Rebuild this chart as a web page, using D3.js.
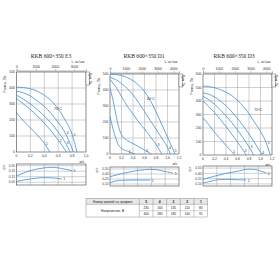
<!DOCTYPE html>
<html><head><meta charset="utf-8">
<script src="https://cdn.jsdelivr.net/npm/d3@7"></script>
<style>body{margin:0;background:#fff}svg{display:block}text{font-family:"Liberation Sans",Arial,sans-serif}</style>
</head><body>
<svg id="c" width="280" height="280"></svg>
<script>
// ---------- data ----------
const titles = ["RKB 600×350 E3", "RKB 600×350 D1", "RKB 600×350 D3"];
const tempLabels = ["70°C", "40°C", "70°C"];
const tempAnchors = [[0.54, 262], [0.64, 337], [0.89, 326]];
const velMax = [1.0, 1.2, 1.2];
const presMax = [500, 500, 600];
const velTicks = [[0, 0.2, 0.4, 0.6, 0.8, 1.0], [0, 0.2, 0.4, 0.6, 0.8, 1.0, 1.2], [0, 0.2, 0.4, 0.6, 0.8, 1.0, 1.2]];
const presTicks = [[0, 100, 200, 300, 400, 500], [0, 100, 200, 300, 400, 500], [0, 100, 200, 300, 400, 500, 600]];
const flowTicks = [[0, 1000, 2000, 3000], [0, 1000, 2000, 3000, 4000], [0, 1000, 2000, 3000, 4000]];
const flowPerVel = 3630;
const curveNames = ["1", "2", "3", "4", "5"];

// E3 pressure curves [velocity, Pa]
const e3c1 = [[0,245],[0.1,195],[0.2,150],[0.3,105],[0.4,55],[0.48,0]];
const e3c2 = [[0,335],[0.1,300],[0.2,265],[0.3,225],[0.4,180],[0.5,130],[0.6,75],[0.72,0]];
const e3c3 = [[0,355],[0.1,330],[0.2,300],[0.3,265],[0.4,225],[0.5,180],[0.6,125],[0.7,60],[0.77,0]];
const e3c4 = [[0,380],[0.1,370],[0.2,350],[0.3,320],[0.4,285],[0.5,240],[0.6,185],[0.7,120],[0.82,0]];
const e3c5 = [[0,405],[0.1,403],[0.2,395],[0.3,380],[0.4,355],[0.5,320],[0.6,270],[0.7,200],[0.8,110],[0.87,0]];
// D1
const d1c1 = [[0,235],[0.05,160],[0.1,100],[0.15,55],[0.2,35],[0.3,18],[0.43,0]];
const d1c2 = [[0,410],[0.05,340],[0.1,250],[0.15,170],[0.2,120],[0.3,85],[0.4,65],[0.5,45],[0.6,25],[0.72,0]];
const d1c3 = [[0,465],[0.1,420],[0.2,360],[0.3,300],[0.4,250],[0.5,200],[0.6,155],[0.7,110],[0.8,60],[0.9,0]];
const d1c4 = [[0,480],[0.1,465],[0.2,440],[0.3,410],[0.4,370],[0.5,320],[0.6,265],[0.7,210],[0.8,155],[0.9,100],[1.0,40],[1.05,0]];
const d1c5 = [[0,500],[0.1,497],[0.2,490],[0.3,478],[0.4,458],[0.5,430],[0.6,390],[0.7,335],[0.8,265],[0.9,185],[1.0,105],[1.1,25],[1.13,0]];
// D3
const d3c1 = [[0,275],[0.1,225],[0.2,170],[0.3,120],[0.4,70],[0.5,25],[0.56,0]];
const d3c2 = [[0,400],[0.1,360],[0.2,315],[0.3,265],[0.4,210],[0.5,155],[0.6,95],[0.7,35],[0.75,0]];
const d3c3 = [[0,435],[0.1,410],[0.2,375],[0.3,335],[0.4,290],[0.5,240],[0.6,185],[0.7,125],[0.8,60],[0.88,0]];
const d3c4 = [[0,460],[0.1,450],[0.2,430],[0.3,400],[0.4,365],[0.5,320],[0.6,270],[0.7,215],[0.8,155],[0.9,90],[1.0,20],[1.03,0]];
const d3c5 = [[0,510],[0.1,507],[0.2,498],[0.3,485],[0.4,465],[0.5,440],[0.6,405],[0.7,360],[0.8,305],[0.9,240],[1.0,175],[1.1,90],[1.17,0]];

// efficiency curves
const effDomains = [[0, 0.38], [0.04, 0.61], [0.04, 0.61]];
const effTicks = [[0.05, 0.15, 0.25, 0.35], [0.10, 0.25, 0.40, 0.55], [0.10, 0.25, 0.40, 0.55]];
const effNames = [["1", "5"], ["1", "5"], ["2", "5"]];
const e3eLow = [[0,0.063],[0.1,0.09],[0.2,0.11],[0.3,0.125],[0.4,0.133],[0.5,0.13],[0.65,0.11]];
const e3eHigh = [[0,0.165],[0.1,0.215],[0.2,0.26],[0.3,0.29],[0.4,0.31],[0.5,0.32],[0.6,0.31],[0.7,0.285],[0.8,0.26]];
const d1eLow = [[0,0.14],[0.1,0.19],[0.2,0.21],[0.4,0.22],[0.7,0.22]];
const d1eHigh = [[0,0.32],[0.2,0.41],[0.4,0.48],[0.6,0.53],[0.7,0.54],[0.8,0.53],[0.9,0.5],[1.0,0.46],[1.1,0.42]];
const d3eLow = [[0,0.12],[0.1,0.16],[0.2,0.2],[0.3,0.225],[0.4,0.23],[0.5,0.225],[0.75,0.21]];
const d3eHigh = [[0,0.23],[0.2,0.32],[0.4,0.40],[0.6,0.46],[0.7,0.5],[0.8,0.52],[0.9,0.51],[1.0,0.47],[1.1,0.41]];

// table
const tableHeader = "Номер кривой на графике";
const tableRowLabel = "Напряжение, В";
const tableCurves = ["5", "4", "3", "2", "1"];
const voltsLow = ["230", "160", "135", "110", "80"];
const voltsHigh = ["400", "280", "180", "140", "95"];

// ---------- drawing ----------
const svg = d3.select("#c");
const blue = "#3d8fd6", gridC = "#a0a0a0", frameC = "#444", txt = "#333";

const layouts = [
  {x0:16.5, x1:86, y0:72, y1:152, ey0:164, ey1:185, tx:51},
  {x0:110, x1:179, y0:74, y1:154, ey0:167, ey1:186, tx:144},
  {x0:203, x1:272, y0:74, y1:155, ey0:166, ey1:186, tx:234}
];
const curveSets = [[e3c1,e3c2,e3c3,e3c4,e3c5],[d1c1,d1c2,d1c3,d1c4,d1c5],[d3c1,d3c2,d3c3,d3c4,d3c5]];
const effSets = [[e3eLow,e3eHigh],[d1eLow,d1eHigh],[d3eLow,d3eHigh]];
const fmt = d => d3.format(d === 0 ? "d" : ".1f")(d).replace(".", ",");
const fmt2 = d => d3.format(".2f")(d).replace(".", ",");

layouts.forEach((L, i) => {
  const g = svg.append("g");
  const x = d3.scaleLinear().domain([0, velMax[i]]).range([L.x0, L.x1]);
  const y = d3.scaleLinear().domain([0, presMax[i]]).range([L.y1, L.y0]);
  const xt = d3.scaleLinear().domain([0, velMax[i] * flowPerVel]).range([L.x0, L.x1]);

  // title
  g.append("text").attr("x", L.tx).attr("y", 58).attr("text-anchor", "middle")
    .style("font-family", "'Liberation Serif',serif").attr("font-size", 5.6).attr("fill", "#222").text(titles[i]);
  // top flow axis
  g.append("text").attr("x", L.x1 - 1).attr("y", 63).attr("text-anchor", "end").attr("font-size", 3.4).attr("fill", txt).text("L, м³/час");
  const ta = g.append("g").attr("transform", `translate(0,${L.y0 - 1.5})`)
    .call(d3.axisTop(xt).tickValues(flowTicks[i]).tickSize(1.2).tickPadding(1).tickFormat(d3.format("d")));
  ta.select(".domain").attr("stroke", frameC).attr("stroke-width", 0.4);
  ta.selectAll("line").attr("stroke", frameC).attr("stroke-width", 0.4);
  ta.selectAll("text").attr("font-size", 3.4).attr("fill", txt).style("font-family", "'Liberation Sans',Arial");

  // grid
  g.append("g").selectAll("line.v").data(velTicks[i].slice(1, -1)).join("line")
    .attr("x1", d => x(d)).attr("x2", d => x(d)).attr("y1", L.y0).attr("y2", L.y1)
    .attr("stroke", gridC).attr("stroke-width", 0.5);
  g.append("g").selectAll("line.h").data(presTicks[i].slice(1, -1)).join("line")
    .attr("x1", L.x0).attr("x2", L.x1).attr("y1", d => y(d)).attr("y2", d => y(d))
    .attr("stroke", gridC).attr("stroke-width", 0.5);
  g.append("rect").attr("x", L.x0).attr("y", L.y0).attr("width", L.x1 - L.x0).attr("height", L.y1 - L.y0)
    .attr("fill", "none").attr("stroke", frameC).attr("stroke-width", 0.6);

  // y ticks
  g.append("g").selectAll("text").data(presTicks[i]).join("text")
    .attr("x", L.x0 - 1.5).attr("y", d => y(d) + 1.2).attr("text-anchor", "end").attr("font-size", 3.4).attr("fill", txt).text(d => d);
  g.append("text").attr("transform", `translate(${L.x0 - 10.5},${L.y0 + 12}) rotate(-90)`).attr("text-anchor", "middle")
    .attr("font-size", 3.4).attr("fill", txt).text("Pвнеш, Па");
  // right box
  g.append("rect").attr("x", L.x1).attr("y", L.y0).attr("width", 3.8).attr("height", 13).attr("fill", "#fff").attr("stroke", frameC).attr("stroke-width", 0.4);
  g.append("text").attr("transform", `translate(${L.x1 + 2.9},${L.y0 + 6.5}) rotate(90)`).attr("text-anchor", "middle")
    .attr("font-size", 2.8).attr("fill", txt).text("Pдин, Па");
  // x ticks
  g.append("g").selectAll("text").data(velTicks[i]).join("text")
    .attr("x", d => x(d)).attr("y", L.y1 + 5).attr("text-anchor", "middle").attr("font-size", 3.4).attr("fill", txt).text(fmt);
  g.append("text").attr("x", L.x1 - 4).attr("y", L.y1 + 10.5).attr("text-anchor", "middle").attr("font-size", 3.4).attr("fill", txt).text("м/с");

  // pressure curves
  const line = d3.line().x(d => x(d[0])).y(d => y(d[1])).curve(d3.curveMonotoneX);
  curveSets[i].forEach((c, k) => {
    g.append("path").attr("d", line(c)).attr("fill", "none").attr("stroke", blue).attr("stroke-width", 0.8);
    const p = c[c.length - 2];
    g.append("text").attr("x", x(p[0]) + 1.5).attr("y", y(p[1]) + 1.5).attr("font-size", 3.4).attr("fill", txt).text(curveNames[k]);
  });
  g.append("text").attr("x", x(tempAnchors[i][0])).attr("y", y(tempAnchors[i][1])).attr("font-size", 3.6).attr("fill", txt).text(tempLabels[i]);

  // efficiency chart
  const ey = d3.scaleLinear().domain(effDomains[i]).range([L.ey1, L.ey0]);
  const ex = d3.scaleLinear().domain([0, 5]).range([L.x0, L.x1]);
  g.append("g").selectAll("line").data(d3.range(1, 5)).join("line")
    .attr("x1", d => ex(d)).attr("x2", d => ex(d)).attr("y1", L.ey0).attr("y2", L.ey1).attr("stroke", gridC).attr("stroke-width", 0.5);
  g.append("g").selectAll("line").data(effTicks[i]).join("line")
    .attr("x1", L.x0).attr("x2", L.x1).attr("y1", d => ey(d)).attr("y2", d => ey(d)).attr("stroke", gridC).attr("stroke-width", 0.5);
  g.append("rect").attr("x", L.x0).attr("y", L.ey0).attr("width", L.x1 - L.x0).attr("height", L.ey1 - L.ey0)
    .attr("fill", "none").attr("stroke", frameC).attr("stroke-width", 0.6);
  g.append("g").selectAll("text").data(effTicks[i]).join("text")
    .attr("x", L.x0 - 1.5).attr("y", d => ey(d) + 1.2).attr("text-anchor", "end").attr("font-size", 3.2).attr("fill", txt).text(fmt2);
  g.append("text").attr("transform", `translate(${L.x0 - 12},${L.ey0 + 3}) rotate(-90)`).attr("text-anchor", "middle")
    .attr("font-size", 3.2).attr("fill", txt).text("ηст");
  const eline = d3.line().x(d => x(d[0])).y(d => ey(d[1])).curve(d3.curveMonotoneX);
  effSets[i].forEach((c, k) => {
    g.append("path").attr("d", eline(c)).attr("fill", "none").attr("stroke", blue).attr("stroke-width", 0.8);
    const p = c[c.length - 1];
    g.append("text").attr("x", x(p[0]) + 1.5).attr("y", ey(p[1]) + 1.5).attr("font-size", 3.4).attr("fill", txt).text(effNames[i][k]);
  });
});

// table
const tb = svg.append("g");
const tx0 = 86, tcol = 139.3, tx1 = 207.7, ty = [198.3, 204.3, 210.7, 217];
const cx = d3.scaleBand().domain(tableCurves).range([tcol, tx1]);
tb.append("rect").attr("x", tx0).attr("y", ty[0]).attr("width", tx1 - tx0).attr("height", ty[1] - ty[0]).attr("fill", "#e8e8e8");
tb.append("rect").attr("x", tx0).attr("y", ty[0]).attr("width", tx1 - tx0).attr("height", ty[3] - ty[0]).attr("fill", "none").attr("stroke", "#777").attr("stroke-width", 0.4);
tb.append("line").attr("x1", tx0).attr("x2", tx1).attr("y1", ty[1]).attr("y2", ty[1]).attr("stroke", "#777").attr("stroke-width", 0.4);
tb.append("line").attr("x1", tcol).attr("x2", tx1).attr("y1", ty[2]).attr("y2", ty[2]).attr("stroke", "#999").attr("stroke-width", 0.4);
tb.selectAll("line.c").data(tableCurves).join("line")
  .attr("x1", d => cx(d)).attr("x2", d => cx(d)).attr("y1", ty[0]).attr("y2", ty[3]).attr("stroke", "#777").attr("stroke-width", 0.4);
tb.append("text").attr("x", (tx0 + tcol) / 2).attr("y", ty[0] + 4.2).attr("text-anchor", "middle").attr("font-size", 3.3).attr("fill", "#222").text(tableHeader);
tb.append("text").attr("x", (tx0 + tcol) / 2).attr("y", ty[2] + 1.2).attr("text-anchor", "middle").attr("font-size", 3.3).attr("fill", "#222").text(tableRowLabel);
tb.selectAll("text.h").data(tableCurves).join("text").attr("x", d => cx(d) + cx.bandwidth() / 2).attr("y", ty[0] + 4.2)
  .attr("text-anchor", "middle").attr("font-size", 3.4).attr("font-weight", "bold").attr("fill", "#222").text(d => d);
tb.selectAll("text.a").data(voltsLow).join("text").attr("x", (d, j) => cx(tableCurves[j]) + cx.bandwidth() / 2).attr("y", ty[1] + 4.3)
  .attr("text-anchor", "middle").attr("font-size", 3.2).attr("fill", "#222").text(d => d);
tb.selectAll("text.b").data(voltsHigh).join("text").attr("x", (d, j) => cx(tableCurves[j]) + cx.bandwidth() / 2).attr("y", ty[2] + 4.3)
  .attr("text-anchor", "middle").attr("font-size", 3.2).attr("fill", "#222").text(d => d);
</script>
</body></html>
